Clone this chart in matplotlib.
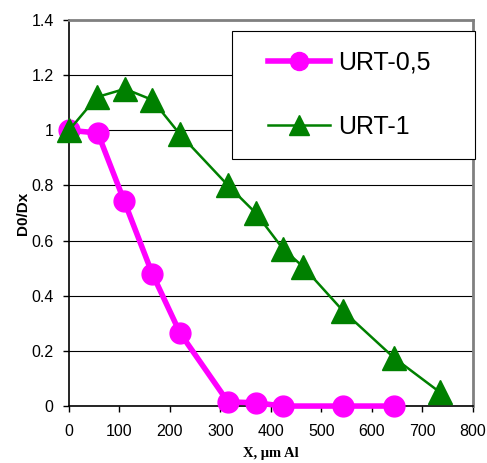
import matplotlib
matplotlib.use("Agg")
import matplotlib.pyplot as plt
from matplotlib.legend_handler import HandlerLine2D

plt.rcParams["font.family"] = ["Liberation Sans", "DejaVu Sans"]

# data
x_05 = [0, 57, 109, 165, 220, 315, 370, 424, 543, 644]
y_05 = [1.0, 0.99, 0.745, 0.48, 0.265, 0.015, 0.012, 0.0, 0.0, 0.0]

x_1 = [0, 55, 111, 165, 220, 315, 370, 424, 464, 543, 644, 735]
y_1 = [1.0, 1.12, 1.15, 1.11, 0.985, 0.80, 0.70, 0.57, 0.505, 0.345, 0.175, 0.05]

fig = plt.figure(figsize=(4.87, 4.63), dpi=100)
ax = fig.add_axes([0.1417, 0.123, 0.829, 0.834])

l1, = ax.plot(x_05, y_05, color="#FF00FF", lw=4, marker="o", ms=15,
              label="URT-0,5", zorder=3, clip_on=False)
l2, = ax.plot(x_1, y_1, color="#008000", lw=1.8, marker="^", ms=17,
              label="URT-1", zorder=4, clip_on=False)

ax.set_xlim(0, 800)
ax.set_ylim(0, 1.4)
ax.set_xticks(range(0, 801, 100))
ax.set_yticks([0, 0.2, 0.4, 0.6, 0.8, 1.0, 1.2, 1.4])
ax.set_yticklabels(["0", "0.2", "0.4", "0.6", "0.8", "1", "1.2", "1.4"])
ax.yaxis.grid(True, color="black", lw=0.8)
ax.set_axisbelow(True)

for s in ["top", "right"]:
    ax.spines[s].set_color("#808080")
    ax.spines[s].set_linewidth(2)
for s in ["left", "bottom"]:
    ax.spines[s].set_color("black")
    ax.spines[s].set_linewidth(1.2)

ax.tick_params(direction="out", length=4, labelsize=11.5, width=1)
ax.tick_params(axis="y", pad=7)
ax.tick_params(axis="x", pad=9)
ax.set_ylabel("D0/Dx", fontsize=11, fontweight="bold", labelpad=1)
ax.set_xlabel("X, μm Al", fontsize=10.5, fontweight="bold",
              family="Liberation Serif", labelpad=6)

hmap = {l1: HandlerLine2D(xpad=0.65), l2: HandlerLine2D(xpad=0.65)}
leg = ax.legend(loc="upper left", bbox_to_anchor=(0.403, 0.972, 0.602, 0.0),
                mode="expand", fontsize=18, frameon=True, fancybox=False,
                framealpha=1, borderpad=0.8, labelspacing=1.6,
                handlelength=3.15, handletextpad=0.3, borderaxespad=0,
                handler_map=hmap)
leg.get_frame().set_edgecolor("black")
leg.get_frame().set_linewidth(0.8)
leg.legend_handles[0].set_markersize(13)
leg.legend_handles[1].set_markersize(14.5)

fig.savefig("out.png", dpi=100)
